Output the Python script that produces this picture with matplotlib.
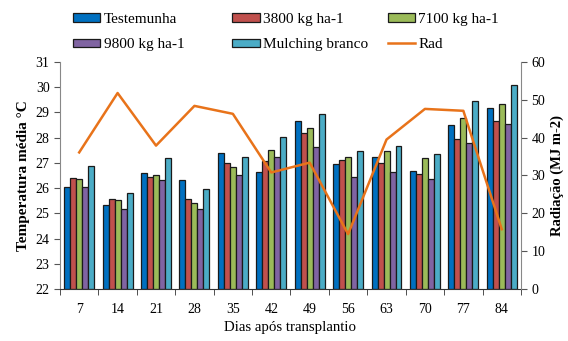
import numpy as np
import matplotlib
matplotlib.use("Agg")
import matplotlib.pyplot as plt
from matplotlib.ticker import FixedLocator

plt.rcParams['font.family'] = ['Liberation Serif', 'DejaVu Serif']

dias = ['7', '14', '21', '28', '35', '42', '49', '56', '63', '70', '77', '84']

testemunha = [26.05, 25.34, 26.60, 26.32, 27.39, 26.64, 28.68, 26.95, 27.23, 26.68, 28.49, 29.19]
t3800 = [26.40, 25.58, 26.44, 25.58, 26.99, 27.07, 28.18, 27.11, 26.99, 26.56, 27.94, 28.68]
t7100 = [26.36, 25.54, 26.52, 25.42, 26.85, 27.50, 28.37, 27.23, 27.46, 27.19, 28.77, 29.35]
t9800 = [26.05, 25.18, 26.32, 25.18, 26.52, 27.23, 27.62, 26.44, 26.64, 26.36, 27.80, 28.56]
mulching = [26.87, 25.81, 27.19, 25.97, 27.23, 28.01, 28.92, 27.46, 27.66, 27.35, 29.47, 30.07]
rad = [36.1, 51.8, 37.9, 48.4, 46.3, 30.8, 33.4, 14.5, 39.5, 47.6, 47.1, 15.8]

series = [testemunha, t3800, t7100, t9800, mulching]
nomes = ['Testemunha', '3800 kg ha-1', '7100 kg ha-1', '9800 kg ha-1', 'Mulching branco']
cores = ['#0070C0', '#C0504D', '#9BBB59', '#8064A2', '#4BACC6']

fig = plt.figure(figsize=(5.68, 3.41), dpi=100)
ax = fig.add_axes([0.1056, 0.1525, 0.8116, 0.6657])

x = np.arange(len(dias))
w = 0.156
barras = []
for i, (vals, nome, cor) in enumerate(zip(series, nomes, cores)):
    b = ax.bar(x + (i - 2) * w, np.array(vals) - 22, w, bottom=22, color=cor,
               edgecolor='#1a1a1a', linewidth=0.9, label=nome, zorder=2)
    barras.append(b)

ax.set_ylim(22, 31)
ax.set_xlim(-0.5, len(dias) - 0.5)
ax.set_yticks(range(22, 32))
ax.set_xticks(x)
ax.set_xticklabels(dias)
ax.xaxis.set_minor_locator(FixedLocator(np.arange(-0.5, len(dias), 1)))
ax.tick_params(axis='x', which='major', length=0, pad=10, labelsize=10)
ax.tick_params(axis='x', which='minor', length=4, direction='out', color='#333333')
ax.tick_params(axis='y', length=4, direction='out', labelsize=10, color='#555555')
ax.spines['top'].set_visible(False)
ax.spines['right'].set_visible(False)
ax.spines['left'].set_color('#888888')
ax.spines['bottom'].set_color('#333333')
ax.set_ylabel('Temperatura média °C', fontweight='bold', fontsize=11)
ax.set_xlabel('Dias após transplantio', fontsize=10.75)

ax2 = ax.twinx()
linha, = ax2.plot(x, rad, color='#E8731A', linewidth=1.8, label='Rad', zorder=3)
ax2.set_ylim(0, 60)
ax2.set_yticks(range(0, 61, 10))
ax2.tick_params(axis='y', length=4, direction='out', labelsize=10, color='#555555')
ax2.spines['top'].set_visible(False)
ax2.spines['left'].set_visible(False)
ax2.spines['bottom'].set_visible(False)
ax2.spines['right'].set_color('#888888')
ax2.set_ylabel('Radiação (MJ m-2)', fontweight='bold', fontsize=10.5)

# legenda em tres colunas com posicoes fixas
colunas = [
    ([barras[0], barras[3]], [nomes[0], nomes[3]], 0.1285),
    ([barras[1], barras[4]], [nomes[1], nomes[4]], 0.4085),
    ([barras[2], linha], [nomes[2], 'Rad'], 0.683),
]
for hs, ls, xpos in colunas:
    fig.legend(hs, ls, ncol=1, frameon=False, loc='center left',
               bbox_to_anchor=(xpos, 1 - 32 / 341), fontsize=11,
               handlelength=1.8, handleheight=0.45, handletextpad=0.2,
               labelspacing=0.8, borderpad=0, borderaxespad=0)

fig.savefig('out.png', dpi=100)
